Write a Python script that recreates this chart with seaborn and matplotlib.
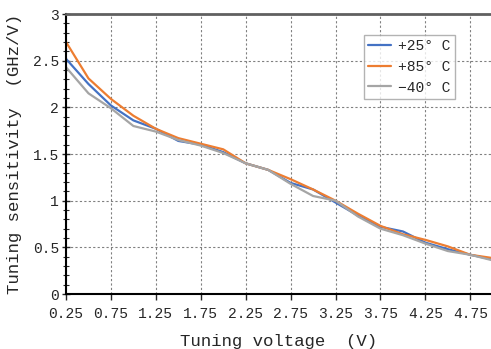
import matplotlib
matplotlib.use("Agg")
import matplotlib.pyplot as plt
import seaborn as sns
import pandas as pd
import numpy as np
from matplotlib.ticker import MultipleLocator, FixedLocator

voltage = [0.25, 0.5, 0.75, 1.0, 1.25, 1.5, 1.75, 2.0, 2.25, 2.5,
           2.75, 3.0, 3.25, 3.5, 3.75, 4.0, 4.25, 4.5, 4.75, 5.0]
sens_p25 = [2.52, 2.25, 2.02, 1.86, 1.77, 1.64, 1.60, 1.52, 1.40, 1.33,
            1.19, 1.12, 0.98, 0.84, 0.72, 0.67, 0.55, 0.48, 0.42, 0.37]
sens_p85 = [2.70, 2.31, 2.09, 1.91, 1.77, 1.67, 1.61, 1.55, 1.40, 1.33,
            1.23, 1.12, 1.00, 0.86, 0.73, 0.64, 0.58, 0.51, 0.42, 0.385]
sens_m40 = [2.43, 2.15, 1.99, 1.80, 1.74, 1.65, 1.59, 1.51, 1.40, 1.33,
            1.18, 1.05, 1.00, 0.83, 0.70, 0.63, 0.54, 0.46, 0.42, 0.36]
series_names = ["+25° C", "+85° C", "−40° C"]
xtick_labels = ["0.25", "0.75", "1.25", "1.75", "2.25", "2.75", "3.25", "3.75", "4.25", "4.75"]
ytick_values = [0, 0.5, 1, 1.5, 2, 2.5, 3]

df = pd.DataFrame({
    "V": voltage * 3,
    "S": sens_p25 + sens_p85 + sens_m40,
    "T": [series_names[0]] * len(voltage) + [series_names[1]] * len(voltage) + [series_names[2]] * len(voltage),
})

sns.set_style("white")
plt.rcParams["font.family"] = ["Liberation Mono", "DejaVu Sans"]

fig = plt.figure(figsize=(4.91, 3.49), dpi=100)
ax = fig.add_axes([66/491, 1-294/349, 425/491, 280/349])

palette = {series_names[0]: "#4472C4", series_names[1]: "#ED7D31", series_names[2]: "#A5A5A5"}
sns.lineplot(data=df, x="V", y="S", hue="T", palette=palette, linewidth=1.6, ax=ax,
             hue_order=series_names)

ax.set_xlim(0.25, 4.98)
ax.set_ylim(0, 3)
xt = [float(s) for s in xtick_labels]
ax.xaxis.set_major_locator(FixedLocator(xt))
ax.set_xticklabels(xtick_labels)
ax.set_yticks(ytick_values)
ax.set_yticklabels(["0", "0.5", "1", "1.5", "2", "2.5", "3"])
ax.yaxis.set_minor_locator(MultipleLocator(0.1))

ax.grid(True, which="major", linestyle=(0, (2, 2)), color="#808080", linewidth=0.8)
ax.set_axisbelow(True)

ax.tick_params(axis="y", which="major", direction="inout", length=6, width=1, labelsize=10.5, pad=2, left=True)
ax.tick_params(axis="y", which="minor", direction="inout", length=4, width=0.8, left=True)
ax.tick_params(axis="x", which="major", direction="out", length=4, width=1, labelsize=10.5, pad=5, bottom=True)

for s in ["left", "bottom"]:
    ax.spines[s].set_color("black")
    ax.spines[s].set_linewidth(1.5)
ax.spines["top"].set_color("#606060")
ax.spines["top"].set_linewidth(2)
ax.spines["right"].set_visible(False)

ax.set_xlabel("Tuning voltage  (V)", fontsize=12.5, labelpad=10)
ax.set_ylabel("Tuning sensitivity  (GHz/V)", fontsize=12.5, labelpad=8)

leg = ax.legend(loc="upper left", bbox_to_anchor=(0.70, 0.925), fontsize=10.5,
                frameon=True, fancybox=False, handlelength=1.6, borderpad=0.3,
                labelspacing=0.45, handletextpad=0.5, borderaxespad=0)
leg.get_frame().set_edgecolor("#A0A0A0")
leg.get_frame().set_linewidth(1)

fig.savefig("out.png", dpi=100)
